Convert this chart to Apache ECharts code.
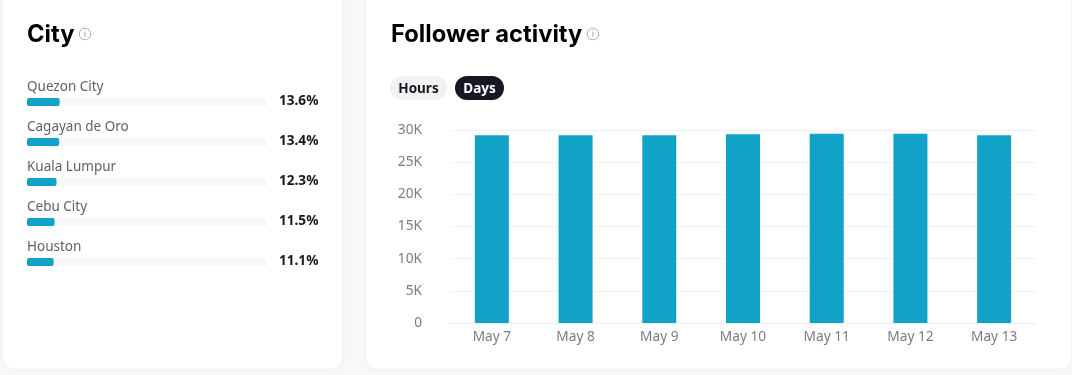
<!DOCTYPE html>
<html><head><meta charset="utf-8">
<style>html,body{margin:0;padding:0;background:#f8f8f8}#c{width:1072px;height:375px}</style>
<script src="https://cdn.jsdelivr.net/npm/echarts@6/dist/echarts.min.js"></script>
</head><body><div id="c"></div>
<script>
const cities = ['Quezon City','Cagayan de Oro','Kuala Lumpur','Cebu City','Houston'];
const cityShare = [13.6,13.4,12.3,11.5,11.1];
const days = ['May 7','May 8','May 9','May 10','May 11','May 12','May 13'];
const followers = [29200,29200,29200,29350,29400,29400,29200];
const yTicks = {min:0,max:30000,interval:5000};
const cardTitles = ['City','Follower activity'];
const pills = ['Hours','Days'];

const sans = '"Noto Sans", sans-serif';
const head = 'Inter, sans-serif';
const chart = echarts.init(document.getElementById('c'),null,{renderer:'canvas'});

function card(x,y,w,h){return {type:'rect',shape:{x,y,width:w,height:h,r:10},
  style:{fill:'#fff',shadowBlur:8,shadowColor:'rgba(0,0,0,0.04)',shadowOffsetY:1}};}
function info(cx,cy){return [
  {type:'circle',shape:{cx,cy,r:5.8},style:{fill:'none',stroke:'#b4b4b8',lineWidth:1}},
  {type:'text',style:{x:cx,y:cy,text:'i',align:'center',verticalAlign:'middle',font:'9px '+sans,fill:'#9a9aa0'}}
];}
function pill(x,y,w,h,fill,color,text){return [
  {type:'rect',shape:{x,y,width:w,height:h,r:12},style:{fill}},
  {type:'text',style:{x:x+w/2,y:y+h/2+1.5,text,align:'center',verticalAlign:'middle',font:'bold 13.5px '+sans,fill:color}}
];}

chart.setOption({
  animation:false,
  backgroundColor:'#f8f8f8',
  title:[
    {text:cardTitles[0],left:27,top:19,padding:0,textStyle:{fontFamily:head,fontWeight:700,fontSize:23.75,color:'#000',lineHeight:32}},
    {text:cardTitles[1],left:391,top:19,padding:0,textStyle:{fontFamily:head,fontWeight:700,fontSize:23.75,color:'#000',lineHeight:32}}
  ],
  graphic:{elements:[
    card(3,-20,339,388.5),
    card(366,-20,705,388.5),
    ...info(85,34),
    ...info(593,34),
    ...pill(390,76,57,24,'#f1f1f2','#161823',pills[0]),
    ...pill(455,76,49,24,'#161823','#fff',pills[1])
  ]},
  grid:[
    {left:27,top:82,width:240,height:200},
    {left:450,top:130,width:586,height:193}
  ],
  xAxis:[
    {gridIndex:0,type:'value',min:0,max:100,show:false},
    {gridIndex:1,type:'category',data:days,
      axisLine:{lineStyle:{color:'#efeff0'}},axisTick:{show:false},
      axisLabel:{color:'#7b7b86',fontFamily:sans,fontSize:13.7,margin:7}}
  ],
  yAxis:[
    {gridIndex:0,type:'category',inverse:true,data:cities,show:false},
    {gridIndex:0,type:'category',inverse:true,position:'right',data:cityShare.map(v=>v.toFixed(1)+'%'),
      axisLine:{show:false},axisTick:{show:false},
      axisLabel:{color:'#161823',fontFamily:sans,fontWeight:700,fontSize:13.6,margin:12,
        verticalAlign:'bottom',lineHeight:2}},
    {gridIndex:1,type:'value',min:yTicks.min,max:yTicks.max,interval:yTicks.interval,
      axisLine:{show:false},axisTick:{show:false},
      splitLine:{lineStyle:{color:'#f1f1f2'}},
      axisLabel:{color:'#7b7b86',fontFamily:sans,fontSize:13.7,margin:28,
        formatter:v=>v===0?'0':(v/1000)+'K'}}
  ],
  series:[
    {type:'bar',xAxisIndex:0,yAxisIndex:0,data:cityShare,barWidth:8,silent:true,
      showBackground:true,backgroundStyle:{color:'#f8f8f8'},
      itemStyle:{color:'#10a3c7',borderRadius:2},
      label:{show:true,position:[0,-18],formatter:p=>cities[p.dataIndex],
        color:'#606068',fontFamily:sans,fontSize:13.5}},
    {type:'bar',xAxisIndex:1,yAxisIndex:2,data:followers,barWidth:34,silent:true,
      itemStyle:{color:'#10a3c7'}}
  ]
});
</script></body></html>
